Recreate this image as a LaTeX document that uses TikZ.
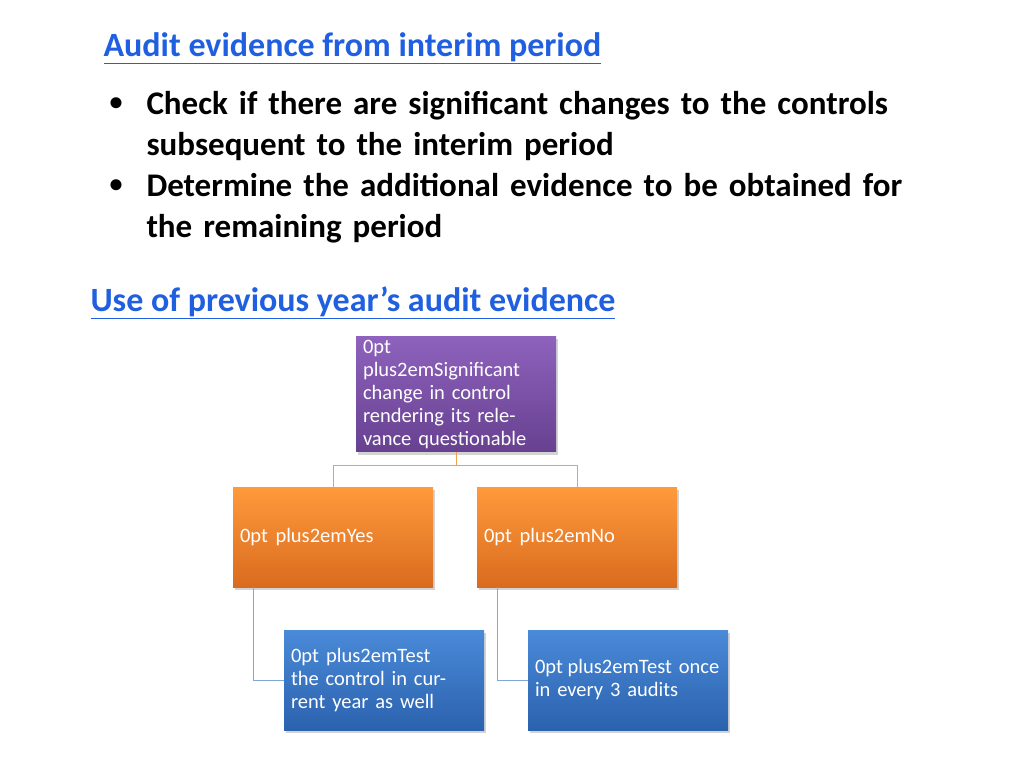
\documentclass[tikz,border=0pt]{standalone}
\usepackage{fontspec}
\setmainfont{Carlito}
\usetikzlibrary{shadows}
\definecolor{linkblue}{HTML}{1F5FE0}
\definecolor{pt}{HTML}{8E62BD}\definecolor{pb}{HTML}{674190}
\definecolor{ot}{HTML}{FF9A3C}\definecolor{ob}{HTML}{D96B1E}
\definecolor{bt}{HTML}{4A8AD8}\definecolor{bb}{HTML}{2B62AE}
\definecolor{ol}{HTML}{F0A050}\definecolor{bl}{HTML}{7FA8D8}
\begin{document}
\begin{tikzpicture}[x=1pt,y=-1pt,
  box/.style={draw=none,minimum width=200pt,minimum height=100pt,text width=186pt,align=center,
    text=white,font=\fontsize{20.5}{23}\selectfont\hyphenpenalty=10000,drop shadow={opacity=0.35,shadow xshift=2pt,shadow yshift=-3pt}},
  purp/.style={box,top color=pt,bottom color=pb},
  oran/.style={box,top color=ot,bottom color=ob},
  blu/.style={box,top color=bt,bottom color=bb},
  oline/.style={draw=ol,line width=0.8pt},
  bline/.style={draw=bl,line width=0.8pt},
  head/.style={anchor=west,text=linkblue,font=\fontsize{34}{38}\bfseries\selectfont},
  body/.style={anchor=west,font=\fontsize{33}{41}\bfseries\selectfont,align=left,text width=850pt}]
\useasboundingbox (0,0) rectangle (1024,768);
\node[head] (t1) at (100,48) {\underline{Audit evidence from interim period}};
\node[body] (b1) at (143,126) {Check if there are significant changes to the controls\\subsequent to the interim period};
\node[body] (b2) at (143,208) {Determine the additional evidence to be obtained for\\the remaining period};
\node[anchor=center,font=\fontsize{26}{30}\bfseries\selectfont] (d1) at (116,104) {•};
\node[anchor=center,font=\fontsize{26}{30}\bfseries\selectfont] (d2) at (116,186) {•};
\node[head] (t2) at (87,303) {\underline{Use of previous year’s audit evidence}};
\node[purp] (p) at (456,394) {Significant change in control rendering its relevance questionable};
\node[oran] (y) at (333,537) {Yes};
\node[oran] (n) at (577,537) {No};
\node[blu] (ty) at (384,680) {Test the control in current year as well};
\node[blu] (tn) at (628,680) {Test once in every 3 audits};
\coordinate (m) at (456,465);
\draw[oline] (p.south) -- (m) -| (y.north);
\draw[oline] (m) -| (n.north);
\draw[bline] (253,587) |- (ty.west);
\draw[bline] (497,587) |- (tn.west);
\end{tikzpicture}
\end{document}
